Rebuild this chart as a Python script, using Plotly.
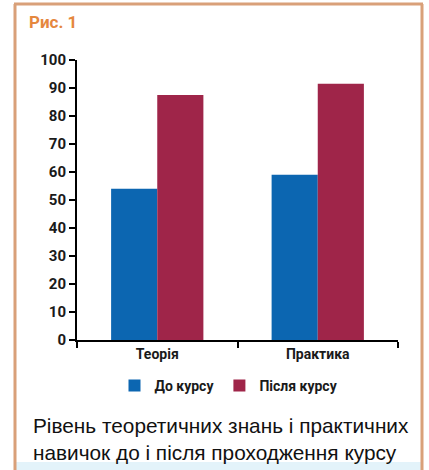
import plotly.graph_objects as go

categories = ["Теорія", "Практика"]
before = [54, 59]
after = [87.5, 91.5]
series_names = ["До курсу", "Після курсу"]
y_ticks = [0, 10, 20, 30, 40, 50, 60, 70, 80, 90, 100]

W, H = 429, 470
L, R, T, B = 77, 31, 60, 130
pw, ph = W - L - R, H - T - B

def px(x):
    return (x - L) / pw

def py(y):
    return (H - B - y) / ph

fig = go.Figure()
fig.add_trace(go.Bar(x=categories, y=before, name=series_names[0], marker_color="#0c66b1", marker_line_width=0))
fig.add_trace(go.Bar(x=categories, y=after, name=series_names[1], marker_color="#9f2549", marker_line_width=0))

border = "#d9a079"
fig.update_layout(
    width=W, height=H,
    margin=dict(l=L, r=R, t=T, b=B, pad=0),
    paper_bgcolor="white", plot_bgcolor="white",
    barmode="group", bargap=0.425, bargroupgap=0,
    font=dict(family="Roboto", color="#1a1a1a"),
    showlegend=True,
    legend=dict(orientation="h", x=px(229), xanchor="center", y=py(386), yanchor="middle",
                font=dict(family="Roboto", size=14, color="#1a1a1a", weight="bold"),
                itemwidth=30, tracegroupgap=0, bgcolor="rgba(0,0,0,0)"),
    xaxis=dict(range=[-0.5, 1.5], showline=True, linecolor="black", linewidth=2,
               ticks="outside", tickson="boundaries", ticklen=6, tickwidth=1.5, tickcolor="black",
               tickfont=dict(family="Roboto", size=14, color="#1a1a1a", weight="bold"),
               showgrid=False, zeroline=False),
    yaxis=dict(range=[0, 100], tickvals=y_ticks, showline=True, linecolor="black", linewidth=2,
               ticks="outside", ticklen=6, tickwidth=1.5, tickcolor="black",
               tickfont=dict(family="Roboto", size=15, color="#1a1a1a", weight="bold"),
               showgrid=False, zeroline=False),
)

shapes = [
    dict(type="rect", xref="paper", yref="paper", x0=px(16), x1=px(421), y0=py(470), y1=py(462),
         fillcolor="#e3f3fa", line_width=0, layer="below"),
    dict(type="line", xref="paper", yref="paper", x0=px(15), x1=px(15), y0=py(4), y1=py(472),
         line=dict(color=border, width=3)),
    dict(type="line", xref="paper", yref="paper", x0=px(422), x1=px(422), y0=py(4), y1=py(472),
         line=dict(color=border, width=3)),
    dict(type="line", xref="paper", yref="paper", x0=px(14), x1=px(423), y0=py(4), y1=py(4),
         line=dict(color=border, width=3)),
]
fig.update_layout(shapes=shapes)

fig.add_annotation(text="Рис. 1", xref="paper", yref="paper", x=px(27), y=py(22),
                   xanchor="left", yanchor="middle", showarrow=False,
                   font=dict(family="Roboto", size=17, color="#e5873e", weight="bold"))
fig.add_annotation(text="Рівень теоретичних знань і практичних<br>навичок до і після проходження курсу",
                   xref="paper", yref="paper", x=px(31), y=py(439),
                   xanchor="left", yanchor="middle", align="left", showarrow=False,
                   font=dict(family="Liberation Sans", size=20.8, color="#111111"))

fig.write_html("out.html")
